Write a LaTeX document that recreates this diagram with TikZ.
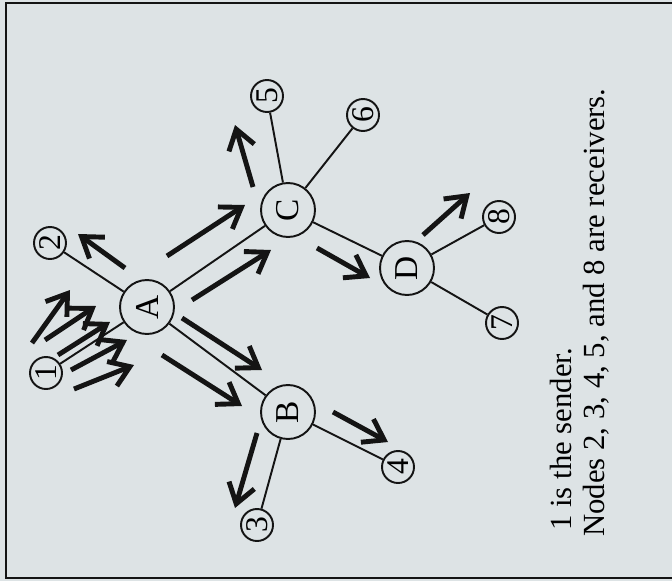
\documentclass[tikz,border=0pt]{standalone}
\usepackage{fontspec}
\setmainfont{Liberation Serif}
\usetikzlibrary{arrows.meta}
\definecolor{scan}{RGB}{221,227,229}
\definecolor{ink}{RGB}{20,20,20}
\begin{document}
\begin{tikzpicture}[
            x=0.02cm, y=-0.02cm,
            router/.style={circle, draw=ink, line width=1.1pt, minimum size=1.08cm, inner sep=0pt, font=\fontsize{19}{19}\selectfont, rotate=90},
            host/.style={circle, draw=ink, line width=1.1pt, minimum size=0.64cm, inner sep=0pt, font=\fontsize{18}{18}\selectfont, rotate=90},
            link/.style={draw=ink, line width=1.1pt},
            pkt/.style={draw=ink, line width=2.8pt, -{Straight Barb[length=11pt,width=15pt,line width=2.8pt]}},
            note/.style={rotate=90, anchor=base west, font=\fontsize{17.5}{17.5}\selectfont, inner sep=0pt}
            ]
            \fill[scan] (0,0) rectangle (672,581);
            \useasboundingbox (0,0) rectangle (672,581);
            \draw[ink, line width=1.4pt] (672,3) -- (6,3) -- (6,578) -- (672,578);

            \node[router] (A) at (147,307) {A};
            \node[router] (B) at (288,412) {B};
            \node[router] (C) at (288,210) {C};
            \node[router] (D) at (407,268) {D};
            \node[host] (n1) at (46,373) {1};
            \node[host] (n2) at (50,243) {2};
            \node[host] (n3) at (257,525) {3};
            \node[host] (n4) at (398,467) {4};
            \node[host] (n5) at (267,96) {5};
            \node[host] (n6) at (363,115) {6};
            \node[host] (n7) at (502,323) {7};
            \node[host] (n8) at (499,217) {8};

            \draw[link] (n1)--(A)--(n2);
            \draw[link] (A)--(B)--(n3);
            \draw[link] (B)--(n4);
            \draw[link] (A)--(C)--(n5);
            \draw[link] (C)--(n6);
            \draw[link] (C)--(D)--(n8);
            \draw[link] (D)--(n7);

            % burst from the sender
            \draw[pkt] (32,343) -- (70,290);
            \draw[pkt] (45,340) -- (96,306);
            \draw[pkt] (58,355) -- (110,322);
            \draw[pkt] (71,370) -- (127,340);
            \draw[pkt] (74,389) -- (134,365);

            % copies sent on by the routers
            \draw[pkt] (125,268) -- (78,234);
            \draw[pkt] (167,256) -- (245,205);
            \draw[pkt] (192,300) -- (271,250);
            \draw[pkt] (182,318) -- (262,370);
            \draw[pkt] (162,355) -- (242,406);
            \draw[pkt] (253,187) -- (235,125);
            \draw[pkt] (257,433) -- (235,508);
            \draw[pkt] (333,412) -- (388,442);
            \draw[pkt] (317,248) -- (370,278);
            \draw[pkt] (423,235) -- (470,193);

            \node[note] (note1) at (571,531) {1 is the sender.};
            \node[note] (note2) at (604,537) {Nodes 2, 3, 4, 5, and 8 are receivers.};
\end{tikzpicture}
\end{document}
